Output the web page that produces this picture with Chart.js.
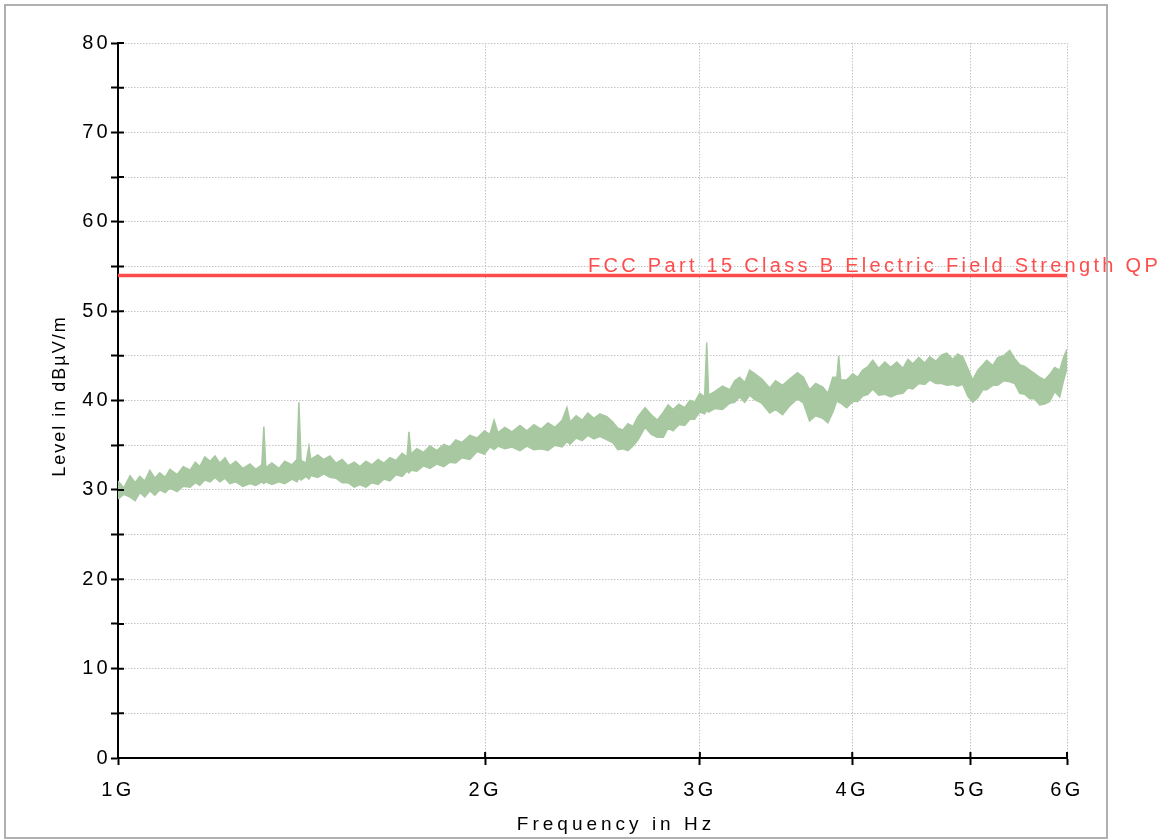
<!DOCTYPE html>
<html>
<head>
<meta charset="utf-8">
<script src="https://cdn.jsdelivr.net/npm/chart.js@4.4.0/dist/chart.umd.min.js"></script>
<style>
  body { margin: 0; background: #fff; }
  #wrap { position: relative; width: 1173px; height: 840px; }
  #frame { position: absolute; left: 4px; top: 4px; width: 1100px; height: 831px; border: 2px solid #b0b0b0; pointer-events: none; }
</style>
</head>
<body>
<div id="wrap">
  <canvas id="grafica"></canvas>
  <div id="frame"></div>
</div>
<script>
// frecuencias en GHz
var freqGHz = [1.000,1.011,1.023,1.033,1.042,1.052,1.062,1.072,1.082,1.093,
  1.103,1.118,1.131,1.146,1.157,1.167,1.178,1.190,1.201,1.212,
  1.224,1.235,1.249,1.266,1.283,1.297,1.312,1.317,1.322,1.337,
  1.355,1.370,1.389,1.402,1.407,1.413,1.426,1.434,1.439,1.458,
  1.475,1.492,1.509,1.527,1.544,1.562,1.579,1.597,1.615,1.634,
  1.652,1.671,1.690,1.710,1.726,1.732,1.739,1.758,1.781,1.802,
  1.826,1.850,1.871,1.892,1.914,1.943,1.970,1.997,2.018,2.034,
  2.049,2.076,2.104,2.136,2.164,2.193,2.223,2.252,2.282,2.313,
  2.334,2.348,2.375,2.402,2.428,2.456,2.484,2.517,2.545,2.570,
  2.594,2.619,2.644,2.669,2.705,2.737,2.768,2.800,2.825,2.852,
  2.883,2.915,2.944,2.970,2.999,3.027,3.039,3.050,3.085,3.131,
  3.174,3.204,3.234,3.265,3.296,3.327,3.372,3.423,3.461,3.507,
  3.554,3.607,3.648,3.690,3.733,3.783,3.820,3.856,3.886,3.899,
  3.914,3.958,4.004,4.042,4.080,4.120,4.158,4.205,4.254,4.302,
  4.351,4.401,4.443,4.485,4.536,4.587,4.630,4.683,4.736,4.781,
  4.835,4.881,4.928,4.975,5.022,5.070,5.118,5.157,5.215,5.264,
  5.323,5.385,5.435,5.488,5.539,5.592,5.644,5.698,5.752,5.807,
  5.862,5.918,5.963,6.000];

// nivel medido, borde superior e inferior de la traza (dBuV/m)
var levelMax = [31.0,30.2,31.6,30.8,31.5,31.0,32.2,31.3,31.9,31.4,
  32.3,31.7,32.6,32.2,33.1,32.6,33.7,33.2,33.8,33.0,
  33.6,32.7,33.2,32.4,32.9,32.3,32.8,37.1,32.5,33.0,
  32.4,33.2,32.8,33.4,39.8,33.3,33.0,34.9,33.4,33.9,
  33.4,33.8,33.0,33.4,32.7,33.1,32.6,33.2,32.8,33.4,
  33.0,33.6,33.3,34.1,33.7,36.5,34.0,34.6,34.2,34.9,
  34.4,35.1,34.8,35.6,35.3,36.1,35.8,36.6,36.2,37.8,
  36.4,37.0,36.5,37.2,36.6,37.3,36.8,37.5,37.0,37.8,
  39.2,37.6,38.3,37.8,38.6,38.0,38.5,38.2,37.6,36.9,
  36.7,37.4,37.1,38.2,39.2,38.4,37.8,38.7,39.5,39.0,
  39.6,39.2,40.0,39.8,40.8,40.4,46.5,40.6,41.0,41.6,
  41.2,42.2,42.6,42.0,43.4,43.0,42.4,41.4,42.2,41.7,
  42.4,43.1,42.6,41.2,41.9,41.5,40.8,42.6,42.6,45.0,
  42.3,42.3,43.0,42.6,43.4,43.8,44.5,43.6,44.3,43.7,
  44.3,43.6,44.6,44.1,44.8,44.2,44.9,44.4,45.1,45.3,
  44.6,45.2,44.9,43.6,42.3,43.4,44.0,44.5,43.9,44.8,
  45.0,45.6,44.7,44.0,43.8,43.4,43.0,42.6,42.3,42.9,
  43.7,43.4,44.9,45.7];

var levelMin = [29.0,29.5,29.2,28.8,29.7,29.2,29.9,29.4,30.0,29.7,
  30.2,29.8,30.4,30.3,30.8,30.5,31.1,30.9,31.4,30.9,
  31.3,30.7,30.9,30.4,30.7,30.5,30.9,30.7,30.9,30.6,
  30.9,30.7,31.2,30.9,31.3,31.1,31.5,31.2,31.6,31.4,
  31.8,31.4,31.3,30.8,30.8,30.3,30.6,30.3,30.8,30.6,
  31.2,31.0,31.7,31.5,32.1,31.9,32.2,32.1,32.7,32.4,
  32.9,32.6,33.1,33.0,33.6,33.4,34.3,34.0,34.8,34.5,
  34.9,34.6,34.8,34.4,34.9,34.5,34.6,34.4,35.0,34.8,
  35.4,35.1,35.8,35.5,36.1,35.7,36.0,35.6,35.3,34.5,
  34.6,34.4,34.9,35.6,37.0,36.2,35.9,35.9,36.9,36.6,
  37.3,37.2,37.9,37.9,38.7,38.5,38.9,38.7,39.1,39.0,
  39.7,39.8,40.4,39.8,40.6,40.1,39.7,38.6,39.0,38.4,
  39.4,40.2,39.7,37.7,38.3,38.0,37.5,38.7,40.0,39.8,
  39.7,39.2,39.9,39.9,40.5,40.7,41.3,40.6,40.7,40.4,
  40.7,40.8,41.4,41.3,41.9,41.8,42.3,41.9,41.9,41.7,
  41.8,41.6,41.8,40.5,39.8,40.3,41.2,41.2,41.7,41.7,
  42.2,42.1,41.9,40.8,40.7,40.2,40.2,39.5,39.6,39.9,
  41.0,40.4,42.3,43.6];

// limite FCC
var limitFreq = [1, 6];
var limitLevel = [54, 54];
var limitLabel = 'FCC Part 15 Class B Electric Field Strength QP';

var xTicks = [1, 2, 3, 4, 5, 6];
var xTitle = 'Frequency in Hz';
var yTitle = 'Level in dB\u00b5V/m';

var verde = '#a7c8a0';
var rojo = '#ff4d4d';
var fuente = '"Liberation Sans", Arial, sans-serif';

var decor = {
  id: 'decor',
  beforeDraw: function(chart) {
    chart.ctx.letterSpacing = '3.3px';
  },
  afterDraw: function(chart) {
    var ctx = chart.ctx;
    var a = chart.chartArea;
    var x = chart.scales.x;
    var y = chart.scales.y;

    // marcas hacia dentro
    ctx.save();
    ctx.strokeStyle = '#000';
    ctx.lineWidth = 2;
    ctx.beginPath();
    y.ticks.forEach(function(t) {
      var py = y.getPixelForValue(t.value);
      ctx.moveTo(a.left, py);
      ctx.lineTo(a.left + 6, py);
    });
    x.ticks.forEach(function(t) {
      var px = x.getPixelForValue(t.value);
      ctx.moveTo(px, a.bottom);
      ctx.lineTo(px, a.bottom - 6);
    });
    ctx.stroke();
    ctx.restore();

    // titulos
    ctx.save();
    ctx.fillStyle = '#000';
    ctx.font = '19px ' + fuente;
    ctx.letterSpacing = '4px';
    ctx.textAlign = 'center';
    ctx.textBaseline = 'middle';
    ctx.fillText(xTitle, 616, 825);
    ctx.translate(60, 396);
    ctx.rotate(-Math.PI / 2);
    ctx.font = '18px ' + fuente;
    ctx.letterSpacing = '2px';
    ctx.fillText(yTitle, 0, 0);
    ctx.restore();

    // etiqueta del limite
    ctx.save();
    ctx.fillStyle = rojo;
    ctx.font = '20px ' + fuente;
    ctx.letterSpacing = '3.3px';
    ctx.textAlign = 'left';
    ctx.textBaseline = 'alphabetic';
    ctx.fillText(limitLabel, 588, y.getPixelForValue(limitLevel[0]) - 3);
    ctx.restore();
  }
};

new Chart(document.getElementById('grafica'), {
  type: 'line',
  data: {
    datasets: [
      {
        label: 'max',
        data: freqGHz.map(function(f, i) { return {x: f, y: levelMax[i]}; }),
        borderColor: verde,
        backgroundColor: verde,
        borderWidth: 1.5,
        fill: '+1',
      },
      {
        label: 'min',
        data: freqGHz.map(function(f, i) { return {x: f, y: levelMin[i]}; }),
        borderColor: verde,
        borderWidth: 1.5,
        fill: false,
      },
      {
        label: 'limit',
        data: limitFreq.map(function(f, i) { return {x: f, y: limitLevel[i]}; }),
        borderColor: rojo,
        borderWidth: 3.5,
        fill: false,
      },
    ],
  },
  options: {
    responsive: true,
    maintainAspectRatio: false,
    animation: false,
    layout: { padding: { top: 43, right: 106, left: 0, bottom: 0 } },
    elements: { point: { radius: 0 }, line: { tension: 0 } },
    plugins: {
      legend: { display: false },
      tooltip: { enabled: false },
    },
    scales: {
      x: {
        type: 'logarithmic',
        min: 1,
        max: 6,
        afterBuildTicks: function(s) {
          s.ticks = xTicks.map(function(v) { return {value: v}; });
        },
        afterFit: function(s) { s.height = 82; },
        ticks: {
          autoSkip: false,
          maxRotation: 0,
          padding: 13,
          color: '#000',
          font: { family: fuente, size: 20 },
          callback: function(v) { return v + 'G'; },
        },
        grid: {
          color: '#c4c4c4',
          tickLength: 7,
          tickColor: '#000',
          tickWidth: 2,
        },
        border: { display: true, color: '#000', width: 2, dash: [1.5, 1.5] },
      },
      y: {
        min: 0,
        max: 80,
        afterFit: function(s) { s.width = 118; },
        ticks: {
          stepSize: 5,
          padding: 0,
          color: '#000',
          font: { family: fuente, size: 20 },
          callback: function(v) { return v % 10 === 0 ? String(v) : ''; },
        },
        grid: {
          color: '#c4c4c4',
          tickLength: 7,
          tickColor: '#000',
          tickWidth: 2,
        },
        border: { display: true, color: '#000', width: 2, dash: [1.5, 1.5] },
      },
    },
  },
  plugins: [decor],
});
</script>
</body>
</html>
